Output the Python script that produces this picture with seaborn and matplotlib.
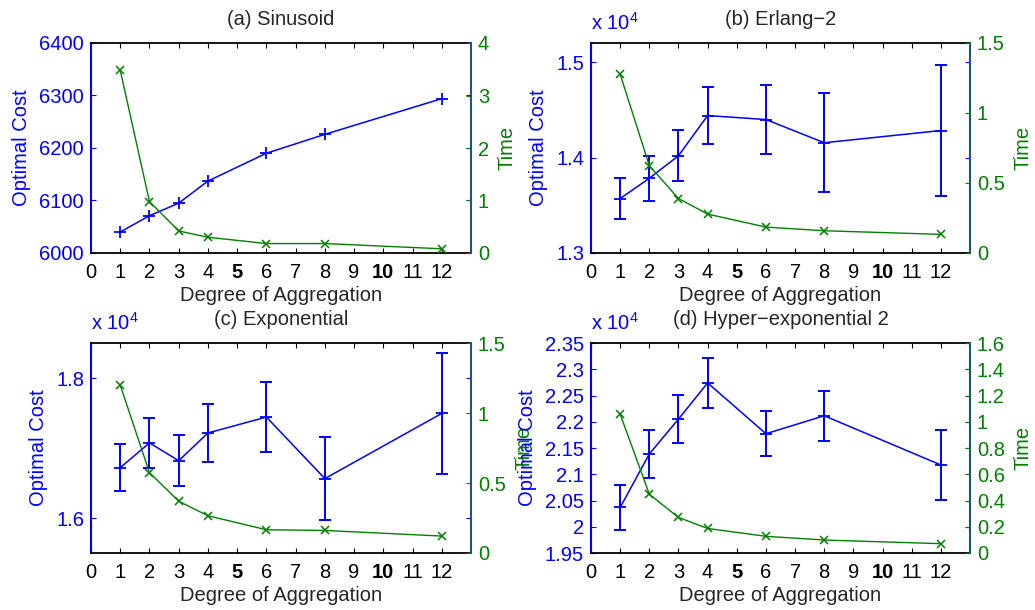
import matplotlib
matplotlib.use("Agg")
import matplotlib.pyplot as plt
import seaborn as sns

# Degree of aggregation used for every experiment
degree = [1, 2, 3, 4, 6, 8, 12]

titles = ["(a) Sinusoid", "(b) Erlang\u22122", "(c) Exponential",
          "(d) Hyper\u2212exponential 2"]

# Sinusoid workload (deterministic, no spread)
sin_cost = [6040, 6071, 6095, 6137, 6190, 6226, 6294]
sin_time = [3.48, 0.98, 0.42, 0.30, 0.18, 0.18, 0.08]

# Erlang-2 workload
erl_cost = [13570, 13783, 14019, 14440, 14398, 14155, 14283]
erl_err = [213, 236, 268, 299, 365, 517, 682]
erl_time = [1.277, 0.624, 0.389, 0.278, 0.185, 0.159, 0.133]

# Exponential workload
exp_cost = [16719, 17073, 16818, 17215, 17442, 16563, 17494]
exp_err = [340, 355, 366, 420, 497, 593, 860]
exp_time = [1.199, 0.574, 0.370, 0.266, 0.166, 0.161, 0.121]

# Hyper-exponential 2 workload
hyp_cost = [20367, 21386, 22051, 22740, 21772, 22114, 21177]
hyp_err = [428, 465, 462, 469, 430, 472, 660]
hyp_time = [1.058, 0.448, 0.271, 0.187, 0.127, 0.099, 0.071]

sns.set_style("ticks")
plt.rcParams.update({
    "font.family": ["Liberation Sans", "DejaVu Sans"],
    "mathtext.fontset": "custom",
    "mathtext.rm": "Liberation Sans",
    "mathtext.it": "Liberation Sans",
    "font.size": 14.5,
    "xtick.direction": "in",
    "ytick.direction": "in",
    "xtick.major.size": 3.5,
    "ytick.major.size": 3.5,
})

BLUE = "#0000ff"
GREEN = "#008000"
TEAL = "#1d5873"
FS = 14.5

panels = [
    dict(cost=sin_cost, err=None, time=sin_time, scale=1,
         ylim=(6000, 6400), yticks=[6000, 6100, 6200, 6300, 6400],
         tlim=(0, 4), tticks=[0, 1, 2, 3, 4]),
    dict(cost=erl_cost, err=erl_err, time=erl_time, scale=1e4,
         ylim=(13000, 15200), yticks=[13000, 14000, 15000],
         tlim=(0, 1.5), tticks=[0, 0.5, 1, 1.5]),
    dict(cost=exp_cost, err=exp_err, time=exp_time, scale=1e4,
         ylim=(15500, 18500), yticks=[16000, 18000],
         tlim=(0, 1.5), tticks=[0, 0.5, 1, 1.5]),
    dict(cost=hyp_cost, err=hyp_err, time=hyp_time, scale=1e4,
         ylim=(19500, 23500), yticks=list(range(19500, 23501, 500)),
         tlim=(0, 1.6), tticks=[0, 0.2, 0.4, 0.6, 0.8, 1, 1.2, 1.4, 1.6]),
]

W, H = 1035, 610
fig = plt.figure(figsize=(W / 100, H / 100), dpi=100)

# axes boxes in pixels: left, top, right, bottom
boxes = [(91, 43, 471, 253), (591, 43, 970, 253),
         (91, 343, 471, 553), (591, 343, 970, 553)]

for box, title, p in zip(boxes, titles, panels):
    l, t, r, b = box
    ax = fig.add_axes([l / W, 1 - b / H, (r - l) / W, (b - t) / H])
    ax2 = ax.twinx()

    if p["err"] is not None:
        ax.errorbar(degree, p["cost"], yerr=p["err"], fmt="none",
                    ecolor=BLUE, elinewidth=1.4, capsize=4, capthick=1.4,
                    zorder=2)
    sns.lineplot(x=degree, y=p["cost"], ax=ax, color=BLUE, marker="+",
                 markersize=9, markeredgewidth=1.3, linewidth=1.1,
                 markeredgecolor=BLUE, zorder=3)
    sns.lineplot(x=degree, y=p["time"], ax=ax2, color=GREEN, marker="x",
                 markersize=5.5, markeredgewidth=1.1, linewidth=1.0,
                 markeredgecolor=GREEN)

    ax.set_xlim(0, 13)
    ax.set_xticks(range(0, 13))
    ax.set_xticklabels([str(i) for i in range(0, 13)])
    for lab in ax.get_xticklabels():
        if lab.get_text() in ("5", "10"):
            lab.set_fontweight("bold")

    ax.set_ylim(*p["ylim"])
    ax.set_yticks(p["yticks"])
    ax.set_yticklabels([f"{v / p['scale']:g}" for v in p["yticks"]])
    ax2.set_ylim(*p["tlim"])
    ax2.set_yticks(p["tticks"])
    ax2.set_yticklabels([f"{v:g}" for v in p["tticks"]])

    ax.tick_params(axis="x", top=True, colors="black", labelsize=FS, pad=7)
    ax.tick_params(axis="y", left=True, right=True, colors=BLUE,
                   labelcolor=BLUE, labelsize=FS, pad=5)
    ax2.tick_params(axis="y", right=True, left=False, colors=GREEN,
                    labelcolor=GREEN, labelsize=FS, pad=5)

    for s in ("top", "bottom"):
        ax.spines[s].set_color("black")
        ax.spines[s].set_linewidth(1.3)
    ax.spines["left"].set_color(BLUE)
    ax.spines["left"].set_linewidth(1.5)
    ax.spines["right"].set_visible(False)
    for s in ("left", "top", "bottom"):
        ax2.spines[s].set_visible(False)
    ax2.spines["right"].set_color(TEAL)
    ax2.spines["right"].set_linewidth(1.5)

    ax.set_xlabel("Degree of Aggregation", fontsize=FS, labelpad=3)
    ax.set_ylabel("Optimal Cost", color=BLUE, fontsize=FS, labelpad=6)
    ax2.set_ylabel("Time", color=GREEN, fontsize=FS, labelpad=6)
    ax.set_title(title, fontsize=FS, pad=13)

    if p["scale"] != 1:
        ax.text(0, 1.045, r"x 10$^{4}$", transform=ax.transAxes,
                color=BLUE, fontsize=FS, ha="left", va="bottom")

fig.savefig("out.png", dpi=100)
